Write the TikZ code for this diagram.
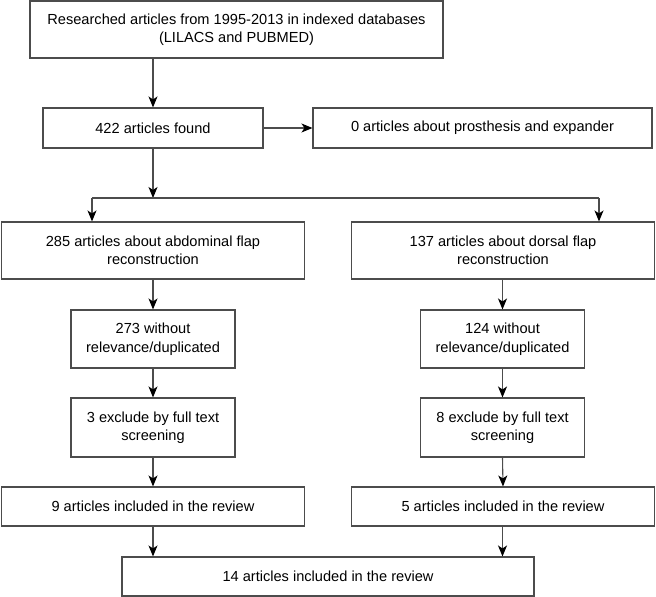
\documentclass[tikz,border=0pt]{standalone}
\usepackage{fontspec}
\setmainfont{Liberation Sans}
\usetikzlibrary{arrows.meta}
\definecolor{linegray}{gray}{0.3}
\tikzset{
  box/.style={draw=linegray, line width=1.1pt, fill=white, inner sep=0pt, align=center,
    font=\fontsize{14.6}{18.5}\selectfont},
  arr/.style={draw=linegray, line width=1.1pt, -{Stealth[length=11pt,width=9pt,inset=3pt,fill=black,color=black]}},
  ln/.style={draw=linegray, line width=1.1pt}
}
\begin{document}
\begin{tikzpicture}[x=1pt,y=-1pt]
\useasboundingbox (0,0) rectangle (656,597);
\node[box, minimum width=413pt, minimum height=57pt] (top) at (236.5,29.5)
  {Researched articles from 1995-2013 in indexed databases\\(LILACS and PUBMED)};
\node[box, minimum width=220pt, minimum height=40pt] (found) at (153,128) {422 articles found};
\node[box, minimum width=339pt, minimum height=40pt] (zero) at (482.5,128) {0 articles about prosthesis and expander};
\node[box, minimum width=303pt, minimum height=57pt] (abd) at (153,250.5) {285 articles about abdominal flap\\reconstruction};
\node[box, minimum width=303pt, minimum height=57pt] (dor) at (503,250.5) {137 articles about dorsal flap\\reconstruction};
\node[box, minimum width=164pt, minimum height=58pt] (rel1) at (153,339) {273 without\\relevance/duplicated};
\node[box, minimum width=164pt, minimum height=58pt] (rel2) at (502.5,339) {124 without\\relevance/duplicated};
\node[box, minimum width=164pt, minimum height=59pt] (exc1) at (153,427.5) {3 exclude by full text\\screening};
\node[box, minimum width=164pt, minimum height=59pt] (exc2) at (502.5,427.5) {8 exclude by full text\\screening};
\node[box, minimum width=303pt, minimum height=39pt] (inc1) at (153,506.5) {9 articles included in the review};
\node[box, minimum width=303pt, minimum height=39pt] (inc2) at (503,506.5) {5 articles included in the review};
\node[box, minimum width=412pt, minimum height=39pt] (tot) at (328,576.5) {14 articles included in the review};
\coordinate (split) at (153,198);
\coordinate (sl) at (92,198);
\coordinate (sr) at (599,198);
\draw[arr] (top.south -| found.north) -- (found.north);
\draw[arr] (found.east) -- (zero.west);
\draw[arr] (found.south) -- (split);
\draw[ln] (sl) -- (sr);
\draw[arr] (sl) -- (sl |- abd.north);
\draw[arr] (sr) -- (sr |- dor.north);
\draw[arr] (abd.south) -- (rel1.north);
\draw[arr] (dor.south -| rel2.north) -- (rel2.north);
\draw[arr] (rel1.south) -- (exc1.north);
\draw[arr] (rel2.south) -- (exc2.north);
\draw[arr] (exc1.south) -- (inc1.north);
\draw[arr] (exc2.south) -- (inc2.south |- inc2.north);
\draw[arr] (inc1.south) -- (inc1.south |- tot.north);
\draw[arr] (inc2.south -| exc2.south) -- (exc2.south |- tot.north);
\end{tikzpicture}
\end{document}
